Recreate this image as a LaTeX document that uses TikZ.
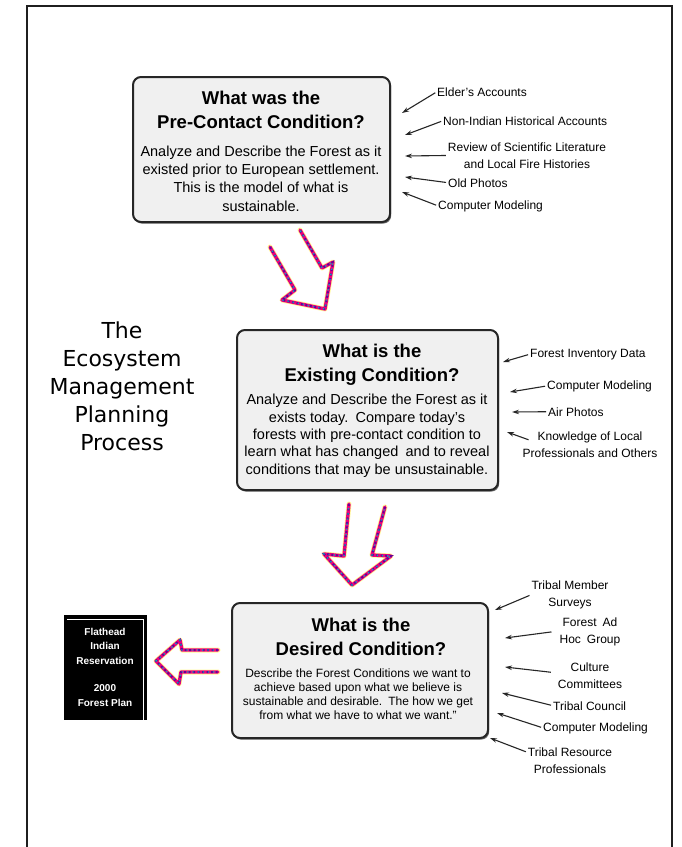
\documentclass[tikz,border=0pt]{standalone}
\usepackage{fontspec}
\setmainfont{Liberation Sans}
\newfontfamily\titlefont{DejaVu Sans}
\usetikzlibrary{arrows.meta,shadows}

\tikzset{
  frame/.style={draw=black!88, line width=2.6pt},
  condbox/.style={draw=black!85, line width=2pt, rounded corners=8pt, fill=gray!12,
    drop shadow={shadow xshift=1.2pt, shadow yshift=-1.6pt, fill=black!60, opacity=1}},
  head/.style={inner sep=0pt, align=center, font=\fontsize{18.5}{24}\selectfont\bfseries},
  bodytxt/.style={inner sep=0pt, align=center, font=\fontsize{14.5}{18.3}\selectfont},
  bodytight/.style={inner sep=0pt, align=center, font=\fontsize{14.5}{17.3}\selectfont},
  smallbody/.style={inner sep=0pt, align=center, font=\fontsize{12}{13.7}\selectfont},
  lbl/.style={inner sep=0pt, align=center, font=\fontsize{12}{16.5}\selectfont},
  titletext/.style={inner sep=0pt, align=center, font=\titlefont\fontsize{22}{28}\selectfont},
  plantext/.style={inner sep=0pt, align=center, text=white, font=\fontsize{10}{14.5}\selectfont\bfseries},
  feed/.style={-{Stealth[length=7pt,width=4.5pt]}, line width=1.1pt, draw=black!85, shorten <=2pt},
  rbA/.style={line width=5pt, draw=yellow!75, opacity=.55, line join=round, line cap=round},
  rbB/.style={line width=3.4pt, draw=magenta!85!red, line join=round, line cap=round},
  rbC/.style={line width=2pt, draw=violet!80!blue, dash pattern=on 2pt off 2.5pt},
  rbD/.style={line width=1.4pt, draw=cyan!70!green, dash pattern=on 1.2pt off 4pt, dash phase=1pt},
}
% hand-drawn outline arrow, stroked in several speckled colours
\newcommand\handarrow[1]{%
  \draw[rbA] #1; \draw[rbB] #1; \draw[rbC] #1; \draw[rbD] #1;}

\begin{document}
\begin{tikzpicture}[x=1pt,y=-1pt]
\useasboundingbox (0,0) rectangle (682,847);
\fill[white] (0,0) rectangle (682,847);

% page frame, open at the bottom
\draw[frame] (27,852) -- (27,6) -- (672,6) -- (672,852);

% title (multi-line nodes are placed by the baseline of their last line)
\node[titletext, anchor=base] (title) at (122,450)
  {The\\Ecosystem\\Management\\Planning\\Process};

% ---------- step 1 ----------
\node[condbox, minimum width=257pt, minimum height=145pt] (pre) at (261.5,149.5) {};
\node[head, anchor=base] (preH) at (261,128) {What was the\\Pre-Contact Condition?};
\node[bodytxt, anchor=base] (preB) at (261,211)
  {Analyze and Describe the Forest as it\\existed prior to European settlement.\\This is the model of what is\\sustainable.};

\node[lbl, anchor=base west] (eld) at (437,96) {Elder's Accounts};
\node[lbl, anchor=base west] (nonind) at (443,125) {Non-Indian Historical Accounts};
\node[lbl, anchor=base] (review) at (527,168) {Review of Scientific Literature\\and Local Fire Histories};
\node[lbl, anchor=base west] (oldph) at (448,187) {Old Photos};
\node[lbl, anchor=base west] (comp1) at (438,209) {Computer Modeling};
\coordinate (eldH) at (402,113);
\coordinate (nonindH) at (405,135);
\coordinate (reviewH) at (405,156);
\coordinate (oldphH) at (405,177);
\coordinate (comp1H) at (402,192);
\draw[feed] (eld.west) -- (eldH);
\draw[feed] (nonind.west) -- (nonindH);
\draw[feed] (review.west) -- (reviewH);
\draw[feed] (oldph.west) -- (oldphH);
\draw[feed] (comp1.west) -- (comp1H);

% ---------- step 2 ----------
\node[condbox, minimum width=261pt, minimum height=160pt] (exist) at (367.5,410) {};
\node[head, anchor=base] (existH) at (372,381) {What is the\\Existing Condition?};
\node[bodytight, anchor=base] (existB) at (367,474)
  {Analyze and Describe the Forest as it\\exists today.\enspace Compare today's\\forests with pre-contact condition to\\learn what has changed\enspace and to reveal\\conditions that may be unsustainable.};

\node[lbl, anchor=base west] (inv) at (530,357) {Forest Inventory Data};
\node[lbl, anchor=base west] (comp2) at (547,389) {Computer Modeling};
\node[lbl, anchor=base west] (air) at (548,416) {Air Photos};
\node[lbl, anchor=base] (know) at (590,457) {Knowledge of Local\\Professionals and Others};
\coordinate (invH) at (503,362);
\coordinate (comp2H) at (510,392);
\coordinate (airH) at (512,412);
\coordinate (knowH) at (507,432);
\draw[feed] (inv.west) -- (invH);
\draw[feed] (comp2.west) -- (comp2H);
\draw[feed] (air.west) -- (airH);
\draw[feed] ([xshift=8pt,yshift=4pt]know.west) -- (knowH);

% ---------- step 3 ----------
\node[condbox, minimum width=256pt, minimum height=135pt] (desired) at (360,670.5) {};
\node[head, anchor=base] (desiredH) at (361,655) {What is the\\Desired Condition?};
\node[smallbody, anchor=base] (desiredB) at (358,719)
  {Describe the Forest Conditions we want to\\achieve based upon what we believe is\\sustainable and desirable.\enspace The how we get\\from what we have to what we want.''};

\node[lbl, anchor=base] (memb) at (570,606) {Tribal Member\\Surveys};
\node[lbl, anchor=base] (adhoc) at (590,643) {Forest\enspace Ad\\Hoc\enspace Group};
\node[lbl, anchor=base] (cult) at (590,688) {Culture\\Committees};
\node[lbl, anchor=base west] (council) at (553,710) {Tribal Council};
\node[lbl, anchor=base west] (comp3) at (543,731) {Computer Modeling};
\node[lbl, anchor=base] (res) at (570,773) {Tribal Resource\\Professionals};
\coordinate (membH) at (495,610);
\coordinate (adhocH) at (505,638);
\coordinate (cultH) at (505,667);
\coordinate (councilH) at (502,693);
\coordinate (comp3H) at (497,713);
\coordinate (resH) at (490,738);
\draw[feed] (memb.west) -- (membH);
\draw[feed] ([xshift=-6pt]adhoc.west) -- (adhocH);
\draw[feed] ([xshift=-5pt,yshift=3pt]cult.west) -- (cultH);
\draw[feed] (council.west) -- (councilH);
\draw[feed] (comp3.west) -- (comp3H);
\draw[feed] ([yshift=8pt]res.west) -- (resH);

% ---------- forest plan ----------
\node[fill=black, minimum width=83pt, minimum height=105pt, inner sep=0pt] (plan) at (105.5,667.5) {};
\draw[white, line width=1pt] (67,619) -- (143,619) -- (143,720);
\node[plantext, anchor=base] (planT) at (105,706)
  {Flathead\\Indian\\Reservation\\[13pt]2000\\Forest Plan};

% ---------- flow arrows ----------
\handarrow{(270,247) -- (295,290) -- (282,300) -- (325,309) -- (333,262) -- (322,268) -- (300,230)}
\handarrow{(349,504) -- (344,556) -- (324,554) -- (352,585) -- (391,556) -- (372,555) -- (385,507)}
\handarrow{(218,650) -- (182,650) -- (180,640) -- (156,661) -- (179,684) -- (181,672) -- (218,672)}
\end{tikzpicture}
\end{document}
